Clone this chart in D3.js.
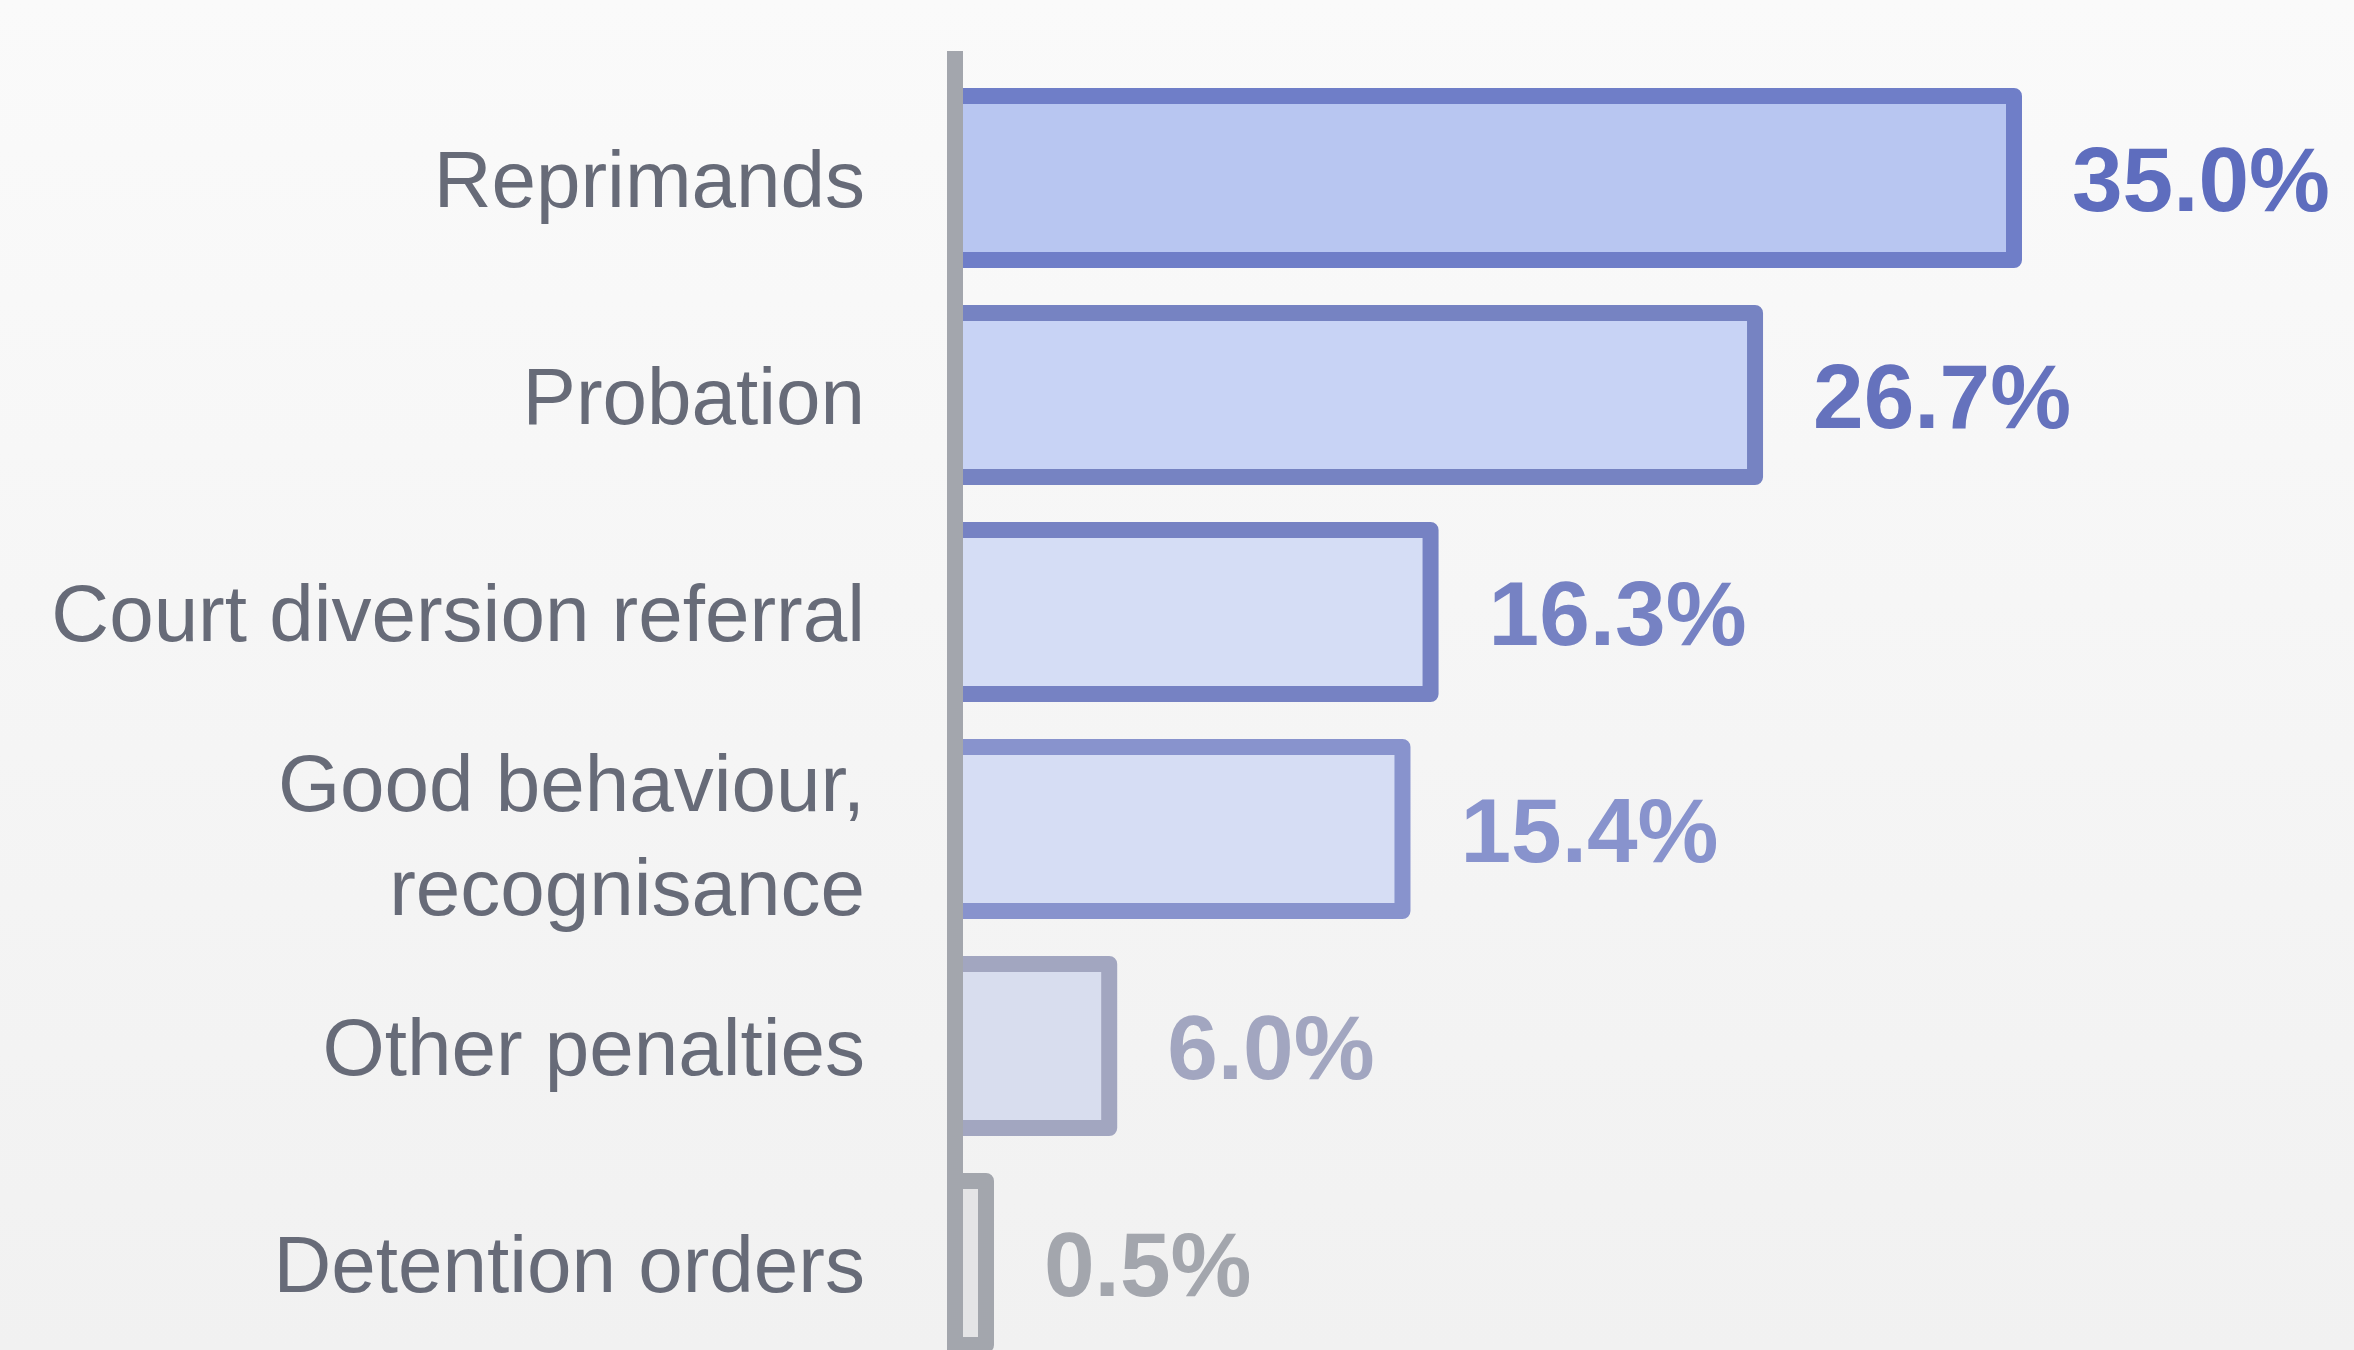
<!DOCTYPE html>
<html>
<head>
<meta charset="utf-8">
<script src="https://cdn.jsdelivr.net/npm/d3@7"></script>
<style>
  html, body { margin: 0; padding: 0; }
  body { width: 2354px; height: 1350px; overflow: hidden; }
  svg { display: block; }
</style>
</head>
<body>
<svg id="chart" width="2354" height="1350"></svg>
<script>
// ---- data ----
const categories = [
  ["Reprimands"],
  ["Probation"],
  ["Court diversion referral"],
  ["Good behaviour,", "recognisance"],
  ["Other penalties"],
  ["Detention orders"]
];
const values = [35.0, 26.7, 16.3, 15.4, 6.0, 0.5];
const valueLabels = ["35.0%", "26.7%", "16.3%", "15.4%", "6.0%", "0.5%"];
const fillColors   = ["#b8c6f1", "#c8d3f5", "#d5ddf5", "#d6ddf4", "#d8ddee", "#e4e4e6"];
const strokeColors = ["#6f7ec8", "#7683c2", "#7682c3", "#8893cd", "#a2a6c0", "#a3a6ad"];
const textColors   = ["#5e6dbe", "#6572bd", "#7682c3", "#8893cd", "#a2a6c0", "#a3a6ad"];

// ---- layout ----
const W = 2354, H = 1350;
const axisX = 955;
const svg = d3.select("#chart");

const defs = svg.append("defs");
const grad = defs.append("linearGradient").attr("id", "bg").attr("x1", 0).attr("y1", 0).attr("x2", 0).attr("y2", 1);
grad.append("stop").attr("offset", "0%").attr("stop-color", "#fafafa");
grad.append("stop").attr("offset", "100%").attr("stop-color", "#f1f1f1");
svg.append("rect").attr("width", W).attr("height", H).attr("fill", "url(#bg)");

const idx = d3.range(values.length);
const step = 217, bw = 164;
const y = d3.scaleBand()
  .domain(idx)
  .range([96, 96 + step * (idx.length - (1 - bw / step))])
  .paddingInner(1 - bw / step)
  .paddingOuter(0);

const x = d3.scaleLinear().domain([0, 35]).range([922, 2014]);
const minRight = axisX + 31;
const barRight = v => Math.max(x(v), minRight);

// bars
svg.append("g").selectAll("rect")
  .data(idx)
  .join("rect")
  .attr("x", axisX)
  .attr("y", i => y(i))
  .attr("width", i => barRight(values[i]) - axisX)
  .attr("height", y.bandwidth())
  .attr("fill", i => fillColors[i])
  .attr("stroke", i => strokeColors[i])
  .attr("stroke-width", 16)
  .attr("stroke-linejoin", "round");

// axis line
svg.append("line")
  .attr("x1", axisX).attr("x2", axisX)
  .attr("y1", 51).attr("y2", H + 10)
  .attr("stroke", "#a3a6ad")
  .attr("stroke-width", 16);

// category labels
const labelFont = 80, capH = labelFont * 0.716, lineGap = 104;
const lab = svg.append("g")
  .attr("font-family", "'Liberation Sans', Arial, sans-serif")
  .attr("font-size", labelFont)
  .attr("fill", "#676b78")
  .attr("text-anchor", "end");
idx.forEach(i => {
  const lines = categories[i];
  const cy = y(i) + y.bandwidth() / 2;
  const n = lines.length;
  const t = lab.append("text");
  lines.forEach((ln, k) => {
    const by = cy + capH / 2 + (k - (n - 1) / 2) * lineGap + (n > 1 ? 5 : 0);
    t.append("tspan").attr("x", 865).attr("y", by).text(ln);
  });
});

// value labels
const valFont = 91;
svg.append("g")
  .attr("font-family", "'Liberation Sans', Arial, sans-serif")
  .attr("font-weight", "bold")
  .attr("font-size", valFont)
  .selectAll("text")
  .data(idx)
  .join("text")
  .attr("x", i => barRight(values[i]) + 58)
  .attr("y", i => y(i) + y.bandwidth() / 2 + valFont * 0.716 / 2)
  .attr("fill", i => textColors[i])
  .text(i => valueLabels[i]);
</script>
</body>
</html>
